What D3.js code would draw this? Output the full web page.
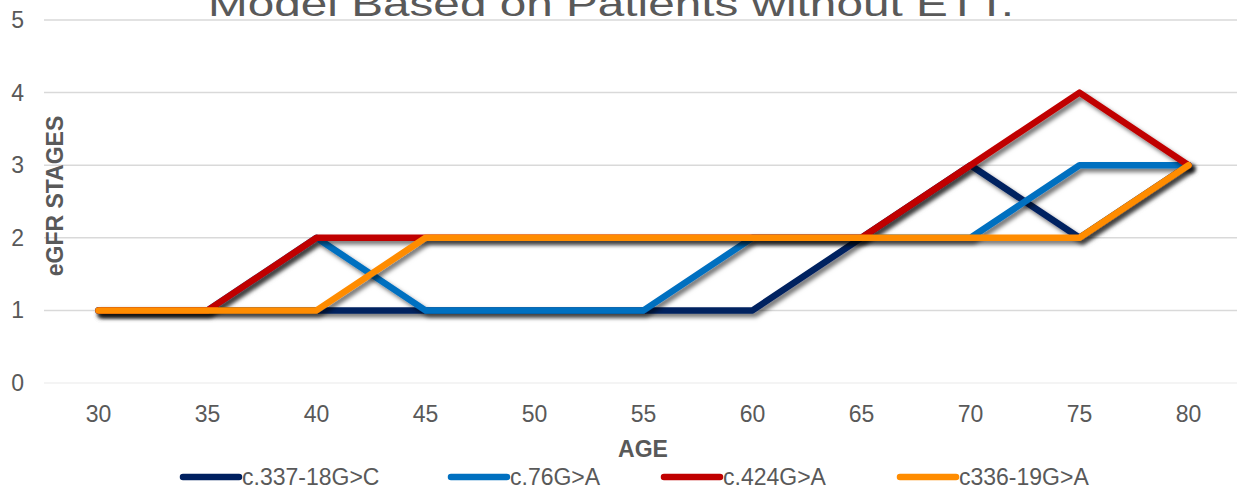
<!DOCTYPE html>
<html>
<head>
<meta charset="utf-8">
<script src="https://cdn.jsdelivr.net/npm/d3@7"></script>
<style>
  body { margin: 0; background: #fff; }
  svg { display: block; font-family: "Liberation Sans", Arial, sans-serif; }
</style>
</head>
<body>
<svg id="chart"></svg>
<script>
const ages = [30, 35, 40, 45, 50, 55, 60, 65, 70, 75, 80];
const yTicks = [0, 1, 2, 3, 4, 5];
const seriesNames = ['c.337-18G>C', 'c.76G>A', 'c.424G>A', 'c336-19G>A'];
const s1 = [1, 1, 1, 1, 1, 1, 1, 2, 3, 2, 3];
const s2 = [1, 1, 2, 1, 1, 1, 2, 2, 2, 3, 3];
const s3 = [1, 1, 2, 2, 2, 2, 2, 2, 3, 4, 3];
const s4 = [1, 1, 1, 2, 2, 2, 2, 2, 2, 2, 3];
const colors = ['#002060', '#0070C0', '#C00000', '#FF8C00'];

const width = 1237, height = 489;
const svg = d3.select('#chart').attr('width', width).attr('height', height);

const defs = svg.append('defs');
defs.append('filter')
  .attr('id', 'shadow')
  .attr('x', '-10%').attr('y', '-30%').attr('width', '120%').attr('height', '160%')
  .append('feDropShadow')
  .attr('dx', 3).attr('dy', 3.5)
  .attr('stdDeviation', 2)
  .attr('flood-color', '#000')
  .attr('flood-opacity', 0.55);

const x = d3.scaleBand().domain(ages).range([44, 1243]).paddingInner(0).paddingOuter(0);
const cx = d => x(d) + x.bandwidth() / 2;
const y = d3.scaleLinear().domain([0, 5]).range([383, 20]);

// gridlines
svg.append('g').selectAll('line')
  .data(yTicks)
  .enter().append('line')
  .attr('x1', 44).attr('x2', width)
  .attr('y1', d => y(d)).attr('y2', d => y(d))
  .attr('stroke', d => d === 0 ? '#f0f0f0' : '#d9d9d9')
  .attr('stroke-width', 1.5);

// y tick labels
svg.append('g').selectAll('text')
  .data(yTicks)
  .enter().append('text')
  .attr('x', 24).attr('y', d => y(d))
  .attr('dy', '0.35em')
  .attr('text-anchor', 'end')
  .style('font-size', '23px')
  .style('fill', '#595959')
  .text(d => d);

// x tick labels
svg.append('g').selectAll('text')
  .data(ages)
  .enter().append('text')
  .attr('x', d => cx(d)).attr('y', 422)
  .attr('text-anchor', 'middle')
  .style('font-size', '23px')
  .style('fill', '#595959')
  .text(d => d);

// title (cut off at top)
svg.append('text')
  .attr('x', 611).attr('y', 16)
  .attr('text-anchor', 'middle')
  .attr('textLength', 806)
  .attr('lengthAdjust', 'spacingAndGlyphs')
  .style('font-size', '35px')
  .style('fill', '#595959')
  .text('Model Based on Patients without ETT.');

// axis titles
svg.append('text')
  .attr('transform', 'translate(63,196) rotate(-90)')
  .attr('text-anchor', 'middle')
  .style('font-size', '23px')
  .style('font-weight', 'bold')
  .style('fill', '#595959')
  .text('eGFR STAGES');

svg.append('text')
  .attr('x', 643).attr('y', 457)
  .attr('text-anchor', 'middle')
  .style('font-size', '23px')
  .style('font-weight', 'bold')
  .style('fill', '#595959')
  .text('AGE');

// lines
const series = [s1, s2, s3, s4];
const line = d3.line()
  .x((d, i) => cx(ages[i]))
  .y(d => y(d));

svg.append('g').selectAll('path')
  .data(series)
  .enter().append('path')
  .attr('d', line)
  .attr('fill', 'none')
  .attr('stroke', (d, i) => colors[i])
  .attr('stroke-width', 6.5)
  .attr('stroke-linejoin', 'round')
  .attr('stroke-linecap', 'round')
  .attr('filter', 'url(#shadow)');

// legend
const legendX = [183, 451, 664, 900];
const leg = svg.append('g').selectAll('g')
  .data(seriesNames)
  .enter().append('g')
  .attr('transform', (d, i) => `translate(${legendX[i]},477)`);

leg.append('line')
  .attr('x1', 0).attr('x2', 56)
  .attr('stroke', (d, i) => colors[i])
  .attr('stroke-width', 6.5)
  .attr('stroke-linecap', 'round');

leg.append('text')
  .attr('x', 59).attr('y', 0)
  .attr('dy', '0.35em')
  .style('font-size', '23px')
  .style('fill', '#595959')
  .text(d => d);
</script>
</body>
</html>
